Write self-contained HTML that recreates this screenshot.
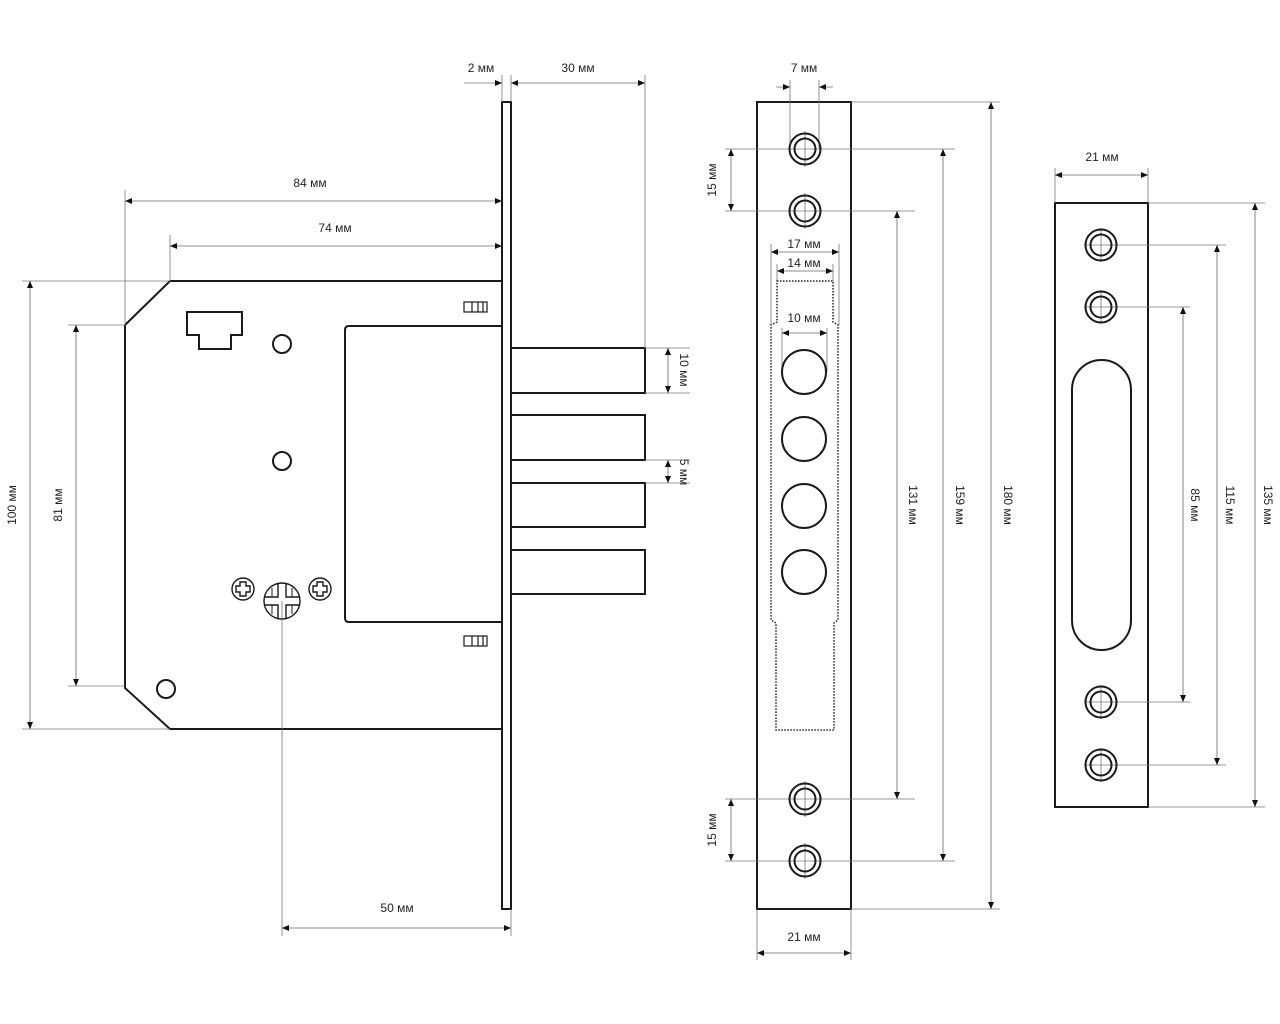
<!DOCTYPE html>
<html><head><meta charset="utf-8"><style>
html,body{margin:0;padding:0;background:#fff;}
svg{display:block;}
text{font-family:"Liberation Sans",sans-serif;font-size:12px;fill:#222;}
.o{fill:none;stroke:#1a1a1a;stroke-width:2;}
.d{fill:none;stroke:#777;stroke-width:0.8;}
.dm{fill:none;stroke:#666;stroke-width:0.8;marker-start:url(#a);marker-end:url(#a);}
</style></head><body>
<svg width="1280" height="1024" viewBox="0 0 1280 1024" xmlns="http://www.w3.org/2000/svg">
<defs>
<marker id="a" markerWidth="8" markerHeight="6" refX="7" refY="3" orient="auto-start-reverse" markerUnits="userSpaceOnUse">
<path d="M0,0 L7,3 L0,6 z" fill="#111"/></marker>
<g id="hole"><circle r="15.5" class="o" stroke-width="1.8"/><circle r="10.5" class="o" stroke-width="1.8"/></g>
</defs>

<!-- LOCK BODY -->
<polygon class="o" points="170,281 502,281 502,729 170,729 125,688 125,325"/>
<rect class="o" x="502" y="102" width="9" height="807"/>
<path class="o" d="M502,326 H349 Q345,326 345,330 V618 Q345,622 349,622 H502"/>
<rect class="o" x="511" y="348" width="134" height="45"/>
<rect class="o" x="511" y="415" width="134" height="45"/>
<rect class="o" x="511" y="483" width="134" height="44"/>
<rect class="o" x="511" y="550" width="134" height="44"/>
<path class="o" stroke-width="1.6" d="M187,312 H242 V335 H231 V349 H199 V335 H187 Z"/>
<circle class="o" stroke-width="1.6" cx="282" cy="344" r="9"/>
<circle class="o" stroke-width="1.6" cx="282" cy="461" r="9"/>
<circle class="o" stroke-width="1.6" cx="166" cy="689" r="9"/>
<g stroke="#1a1a1a" stroke-width="1.2" fill="none">
<rect x="464" y="302" width="23" height="10"/><line x1="472" y1="302" x2="472" y2="312"/><line x1="478" y1="302" x2="478" y2="312"/><line x1="483" y1="302" x2="483" y2="312"/>
<rect x="464" y="636" width="23" height="10"/><line x1="472" y1="636" x2="472" y2="646"/><line x1="478" y1="636" x2="478" y2="646"/><line x1="483" y1="636" x2="483" y2="646"/>
</g>
<g stroke="#1a1a1a" stroke-width="1.4" fill="none">
<circle cx="243" cy="589" r="11"/>
<path d="M240,582 h6 v4 h4 v6 h-4 v4 h-6 v-4 h-4 v-6 h4 z"/>
<circle cx="320" cy="589" r="11"/>
<path d="M317,582 h6 v4 h4 v6 h-4 v4 h-6 v-4 h-4 v-6 h4 z"/>
<circle cx="282" cy="601" r="18"/>
<path d="M278,584 v13 h-13 M286,584 v13 h13 M278,618 v-13 h-13 M286,618 v-13 h13"/>
<path d="M272,588 v9 M292,588 v9 M272,605 v9 M292,605 v9" stroke-width="1"/>
</g>

<!-- lock dims -->
<line class="d" x1="125" y1="190" x2="125" y2="325"/>
<line class="d" x1="170" y1="235" x2="170" y2="281"/>
<line class="dm" x1="125" y1="201" x2="502" y2="201"/>
<text x="310" y="187" text-anchor="middle">84 мм</text>
<line class="dm" x1="170" y1="246" x2="502" y2="246"/>
<text x="335" y="232" text-anchor="middle">74 мм</text>
<line class="d" x1="502" y1="75" x2="502" y2="102"/>
<line class="d" x1="511" y1="75" x2="511" y2="102"/>
<line class="d" x1="645" y1="75" x2="645" y2="348"/>
<path class="d" d="M464,83 H502" marker-end="url(#a)"/>
<line class="dm" x1="511" y1="83" x2="645" y2="83"/>
<text x="481" y="72" text-anchor="middle">2 мм</text>
<text x="578" y="72" text-anchor="middle">30 мм</text>
<line class="d" x1="22" y1="281" x2="170" y2="281"/>
<line class="d" x1="22" y1="729" x2="170" y2="729"/>
<line class="dm" x1="30" y1="281" x2="30" y2="729"/>
<text transform="translate(16,505) rotate(-90)" text-anchor="middle">100 мм</text>
<line class="d" x1="68" y1="325" x2="125" y2="325"/>
<line class="d" x1="68" y1="686" x2="125" y2="686"/>
<line class="dm" x1="76" y1="325" x2="76" y2="686"/>
<text transform="translate(62,505) rotate(-90)" text-anchor="middle">81 мм</text>
<line class="d" x1="645" y1="348" x2="690" y2="348"/>
<line class="d" x1="645" y1="393" x2="690" y2="393"/>
<line class="dm" x1="668" y1="348" x2="668" y2="393"/>
<text transform="translate(680,370) rotate(90)" text-anchor="middle">10 мм</text>
<line class="d" x1="645" y1="460" x2="690" y2="460"/>
<line class="d" x1="645" y1="483" x2="690" y2="483"/>
<line class="dm" x1="668" y1="460" x2="668" y2="483"/>
<text transform="translate(680,472) rotate(90)" text-anchor="middle">5 мм</text>
<line class="d" x1="282" y1="601" x2="282" y2="936"/>
<line class="d" x1="511" y1="909" x2="511" y2="936"/>
<line class="dm" x1="282" y1="928" x2="511" y2="928"/>
<text x="397" y="912" text-anchor="middle">50 мм</text>

<!-- STRIKE PLATE (middle) -->
<rect class="o" x="757" y="102" width="94" height="807"/>
<g class="d">
<line x1="790" y1="80" x2="790" y2="149"/><line x1="819" y1="80" x2="819" y2="149"/>
<line x1="725" y1="149" x2="955" y2="149"/>
<line x1="725" y1="211" x2="915" y2="211"/>
<line x1="725" y1="799" x2="915" y2="799"/>
<line x1="725" y1="861" x2="955" y2="861"/>
<line x1="851" y1="102" x2="1000" y2="102"/>
<line x1="851" y1="909" x2="1000" y2="909"/>
<line x1="757" y1="909" x2="757" y2="960"/><line x1="851" y1="909" x2="851" y2="960"/>
<line x1="771" y1="244" x2="771" y2="325"/><line x1="839" y1="244" x2="839" y2="325"/>
<line x1="777" y1="264" x2="777" y2="281"/><line x1="833" y1="264" x2="833" y2="281"/>
<line x1="782" y1="328" x2="782" y2="372"/><line x1="827" y1="328" x2="827" y2="372"/>
<line x1="805" y1="131" x2="805" y2="167"/><line x1="805" y1="193" x2="805" y2="229"/>
<line x1="805" y1="781" x2="805" y2="817"/><line x1="805" y1="843" x2="805" y2="879"/>
</g>
<use href="#hole" x="805" y="149"/><use href="#hole" x="805" y="211"/>
<use href="#hole" x="805" y="799"/><use href="#hole" x="805" y="861"/>
<path d="M777,281 H833 V322 L838,325 V620 L834,623 V730 H776 V623 L771,620 V325 L777,322 Z" fill="none" stroke="#222" stroke-width="1.5" stroke-dasharray="1.5,1.5"/>
<g class="o" stroke-width="1.8">
<circle cx="804" cy="372" r="22"/><circle cx="804" cy="439" r="22"/>
<circle cx="804" cy="506" r="22"/><circle cx="804" cy="572" r="22"/>
</g>
<path class="d" d="M776,87 H790" marker-end="url(#a)"/>
<path class="d" d="M833,87 H819" marker-end="url(#a)"/>
<text x="804" y="72" text-anchor="middle">7 мм</text>
<line class="dm" x1="771" y1="252" x2="839" y2="252"/>
<text x="804" y="248" text-anchor="middle">17 мм</text>
<line class="dm" x1="777" y1="271" x2="833" y2="271"/>
<text x="804" y="267" text-anchor="middle">14 мм</text>
<line class="dm" x1="782" y1="333" x2="827" y2="333"/>
<text x="804" y="322" text-anchor="middle">10 мм</text>
<line class="dm" x1="731" y1="149" x2="731" y2="211"/>
<text transform="translate(716,180) rotate(-90)" text-anchor="middle">15 мм</text>
<line class="dm" x1="731" y1="799" x2="731" y2="861"/>
<text transform="translate(716,830) rotate(-90)" text-anchor="middle">15 мм</text>
<line class="dm" x1="897" y1="211" x2="897" y2="799"/>
<text transform="translate(909,505) rotate(90)" text-anchor="middle">131 мм</text>
<line class="dm" x1="943" y1="149" x2="943" y2="861"/>
<text transform="translate(956,505) rotate(90)" text-anchor="middle">159 мм</text>
<line class="dm" x1="991" y1="102" x2="991" y2="909"/>
<text transform="translate(1004,505) rotate(90)" text-anchor="middle">180 мм</text>
<line class="dm" x1="757" y1="953" x2="851" y2="953"/>
<text x="804" y="941" text-anchor="middle">21 мм</text>

<!-- RIGHT PLATE -->
<rect class="o" x="1055" y="203" width="93" height="604"/>
<rect class="o" x="1072" y="360" width="59" height="290" rx="29.5"/>
<g class="d">
<line x1="1055" y1="168" x2="1055" y2="203"/><line x1="1148" y1="168" x2="1148" y2="203"/>
<line x1="1148" y1="203" x2="1265" y2="203"/><line x1="1148" y1="807" x2="1265" y2="807"/>
<line x1="1084" y1="245" x2="1226" y2="245"/><line x1="1084" y1="765" x2="1226" y2="765"/>
<line x1="1084" y1="307" x2="1190" y2="307"/><line x1="1084" y1="702" x2="1190" y2="702"/>
<line x1="1101" y1="228" x2="1101" y2="262"/><line x1="1101" y1="290" x2="1101" y2="324"/>
<line x1="1101" y1="685" x2="1101" y2="719"/><line x1="1101" y1="748" x2="1101" y2="782"/>
</g>
<use href="#hole" x="1101" y="245"/><use href="#hole" x="1101" y="307"/>
<use href="#hole" x="1101" y="702"/><use href="#hole" x="1101" y="765"/>
<line class="dm" x1="1055" y1="175" x2="1148" y2="175"/>
<text x="1102" y="161" text-anchor="middle">21 мм</text>
<line class="dm" x1="1183" y1="307" x2="1183" y2="702"/>
<text transform="translate(1191,505) rotate(90)" text-anchor="middle">85 мм</text>
<line class="dm" x1="1217" y1="245" x2="1217" y2="765"/>
<text transform="translate(1226,505) rotate(90)" text-anchor="middle">115 мм</text>
<line class="dm" x1="1255" y1="203" x2="1255" y2="807"/>
<text transform="translate(1264,505) rotate(90)" text-anchor="middle">135 мм</text>
</svg>
</body></html>
